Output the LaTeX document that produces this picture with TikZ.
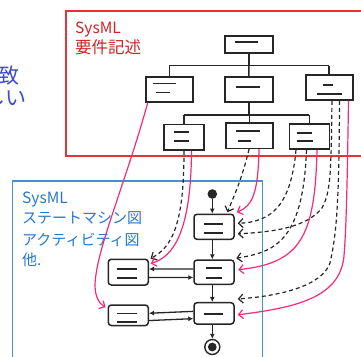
\documentclass[tikz,border=0pt]{standalone}
\usepackage{fontspec}
\newfontfamily\jp{Noto Sans CJK JP}
\usetikzlibrary{arrows.meta,calc}

\definecolor{reqred}{RGB}{224,52,56}
\definecolor{smblue}{RGB}{66,146,214}
\definecolor{txtblue}{RGB}{38,120,202}
\definecolor{txtred}{RGB}{210,34,34}
\definecolor{leadblue}{RGB}{62,74,205}
\definecolor{trace}{RGB}{245,42,122}
\definecolor{ink}{RGB}{38,38,38}

\tikzset{
  req/.style={draw=ink, line width=1.6pt, fill=white, rectangle, inner sep=0pt},
  act/.style={draw=ink, line width=1.5pt, fill=white, rectangle, rounded corners=3pt, inner sep=0pt},
  bar/.style={draw=ink, line width=1.7pt},
  tree/.style={draw=ink, line width=1.5pt},
  flow/.style={draw=ink, line width=1.3pt, -{Latex[length=5pt,width=5pt]}},
  satisfy/.style={draw=trace, line width=1.2pt, -{Straight Barb[length=4.5pt,width=9pt,line width=1.2pt]}},
  derive/.style={draw=ink, line width=1.2pt, dash pattern=on 4pt off 3pt, -{Straight Barb[length=4.5pt,width=9pt,line width=1.2pt]}},
  lbl/.style={anchor=base west, inner sep=0pt, font=\jp\fontsize{15.5}{15.5}\selectfont},
}

\begin{document}
\begin{tikzpicture}[x=1pt,y=-1pt]
\useasboundingbox (0,0) rectangle (361,356);
\clip (0,0) rectangle (361,356);

% partial slide text on the left
\node[anchor=base east, inner sep=0pt, text=leadblue, font=\jp\fontsize{21}{21}\selectfont] (lead1) at (19.5,83.5) {一致};
\node[anchor=base east, inner sep=0pt, text=leadblue, font=\jp\fontsize{21}{21}\selectfont] (lead2) at (26.5,105) {正しい};

% frames
\draw[reqred, line width=1.5pt] (66,11) rectangle (375,156);
\draw[smblue, line width=1.5pt] (12.7,181) rectangle (262.3,375);

% frame labels
\node[lbl, text=txtred] (rq1) at (75,33) {SysML};
\node[lbl, text=txtred, font=\jp\fontsize{16.5}{16.5}\selectfont] (rq2) at (75,53.5) {要件記述};
\node[lbl, text=txtblue] (sm1) at (22,203) {SysML};
\node[lbl, text=txtblue, font=\jp\fontsize{15}{15}\selectfont] (sm2) at (22,223.5) {ステートマシン図};
\node[lbl, text=txtblue, font=\jp\fontsize{15}{15}\selectfont] (sm3) at (22,245.5) {アクティビティ図};
\node[lbl, text=txtblue, font=\jp\fontsize{15}{15}\selectfont] (sm4) at (22,265) {他.};

% requirement tree
\node[req, minimum width=47.7pt, minimum height=17.3pt] (R0) at (249,44.5) {};
\node[req, minimum width=47.3pt, minimum height=25.3pt] (R1) at (169.35,89.35) {};
\node[req, minimum width=47.7pt, minimum height=25pt] (R2) at (248.85,89.5) {};
\node[req, minimum width=47pt, minimum height=25pt] (R3) at (329.2,87.5) {};
\node[req, minimum width=40pt, minimum height=25.7pt] (R4) at (184,137.15) {};
\node[req, minimum width=46.7pt, minimum height=25.6pt] (R5) at (249.35,135.5) {};
\node[req, minimum width=40pt, minimum height=25pt] (R6) at (309.3,136.5) {};

\draw[bar] ($(R0.center)+(-14,-2.2)$) -- ++(23,0);
\draw[bar] ($(R1.center)+(-16.7,-6)$) -- ++(23.4,0);
\draw[bar] ($(R1.center)+(-13.3,3)$) -- ++(14,0);
\draw[bar] ($(R2.center)+(-12.9,-2.2)$) -- ++(24,0);
\draw[bar] ($(R3.center)+(-6.5,-2.8)$) -- ++(10.6,0);
\draw[bar] ($(R3.center)+(-12.2,6.5)$) -- ++(24.7,0);
\draw[bar] ($(R4.center)+(-10,-5.5)$) -- ++(15,0);
\draw[bar] ($(R4.center)+(-10,3.5)$) -- ++(15,0);
\draw[bar] ($(R5.center)+(-13.4,-4.5)$) -- ++(24,0);
\draw[bar] ($(R5.center)+(-11.7,5.2)$) -- ++(13,0);
\draw[bar] ($(R6.center)+(-12.6,-3.2)$) -- ++(15,0);
\draw[bar] ($(R6.center)+(-12.6,4.8)$) -- ++(16,0);

\draw[tree] (R0.south) -- ++(0,11.7) coordinate (j1);
\draw[tree] (j1 -| R1.north) -- (j1 -| R3.north);
\draw[tree] (j1 -| R1.north) -- (R1.north);
\draw[tree] (j1) -- (R2.north);
\draw[tree] (j1 -| R3.north) -- (R3.north);
\draw[tree] (R2.south) -- ++(0,12) coordinate (j2);
\draw[tree] (j2 -| R4.north) -- (j2 -| R6.north);
\draw[tree] (j2 -| R4.north) -- (R4.north);
\draw[tree] (j2 -| R5.north) -- (R5.north);
\draw[tree] (j2 -| R6.north) -- (R6.north);

% activity diagram
\node[circle, fill=ink, inner sep=0pt, minimum size=9.6pt] (init) at (212.3,194) {};
\node[act, minimum width=40pt, minimum height=25pt] (A1) at (214,226.8) {};
\node[act, minimum width=40pt, minimum height=24.3pt] (A2) at (214,272.2) {};
\node[act, minimum width=40pt, minimum height=21.3pt] (A3) at (214,313.35) {};
\node[act, minimum width=40pt, minimum height=25.7pt] (B2) at (128.3,272.15) {};
\node[act, minimum width=40pt, minimum height=20.5pt] (B3) at (128.3,315.25) {};
\node[circle, draw=ink, line width=1.4pt, fill=white, inner sep=0pt, minimum size=15pt] (fin) at (212.3,347) {};
\fill[ink] (fin.center) circle (4.4pt);

\draw[bar] ($(A1.center)+(-9.7,-2.5)$) -- ++(19,0);
\draw[bar] ($(A1.center)+(-9.7,5.9)$) -- ++(19,0);
\draw[bar] ($(A2.center)+(-8.3,-3.9)$) -- ++(16,0);
\draw[bar] ($(A2.center)+(-8.3,5.5)$) -- ++(16,0);
\draw[bar] ($(A3.center)+(-9.7,0.65)$) -- ++(19,0);
\draw[bar] ($(B2.center)+(-11,-2.85)$) -- ++(20,0);
\draw[bar] ($(B2.center)+(-11,6.15)$) -- ++(20,0);
\draw[bar] ($(B3.center)+(-11,-1.75)$) -- ++(20,0);
\draw[bar] ($(B3.center)+(-11,6.45)$) -- ++(20,0);

\draw[flow] (init.south) -- (init |- A1.north);
\draw[flow] (init |- A1.south) -- (init |- A2.north);
\draw[flow] (init |- A2.south) -- (init |- A3.north);
\draw[flow] (init |- A3.south) -- (fin.north);
\draw[flow] ($(A2.west)+(0,-3.2)$) -- ($(B2.east)+(0,-3.2)$);
\draw[flow] ($(B2.east)+(0,5.3)$) -- ($(A2.west)+(0,5.3)$);
\draw[flow] ($(A3.west)+(0,-2)$) -- ($(B3.east)+(0,-2)$);
\draw[flow] ($(B3.east)+(0,5.3)$) -- ($(A3.west)+(0,5.3)$);

% derivation traces (dashed)
\draw[derive] ($(R4.south)+(0,0)$) .. controls (184,225) and (172,247) .. ($(B2.north east)+(1.5,0)$);
\draw[derive] ($(R5.south)+(-0.3,0)$) .. controls (241,183) and (232,200) .. ($(A1.north)+(13.5,-1.3)$);
\draw[derive] ($(R6.south)+(-13.3,0)$) .. controls (291,205) and (272,222) .. ($(A1.east)+(3,-3.5)$);
\draw[derive] ($(R6.south)+(-2.8,0)$) .. controls (303,245) and (272,252) .. ($(A2.north east)+(1.5,-1)$);
\draw[derive] ($(R3.south)+(2.8,0)$) .. controls (331,170) and (331,192) .. (322,208) .. controls (306,228) and (272,232) .. ($(A1.east)+(3,7)$);
\draw[derive] ($(R3.south)+(10.3,0)$) .. controls (339,200) and (337,232) .. (330,263) .. controls (322,286) and (280,296) .. ($(A3.north east)+(3,-3)$);

% satisfaction traces (pink)
\draw[satisfy] ($(R1.south west)+(2.8,0)$) .. controls (125,185) and (96,250) .. (95,285) .. controls (95,298) and (100,304) .. ($(B3.north west)+(-2,3)$);
\draw[satisfy] ($(R4.south)+(7.5,0)$) .. controls (191,235) and (172,257) .. ($(B2.north east)+(1.7,5)$);
\draw[satisfy] ($(R5.south)+(9.7,0)$) .. controls (258,195) and (252,206) .. ($(A1.north east)+(2,-1.3)$);
\draw[satisfy] ($(R6.south)+(7.7,0)$) .. controls (315,238) and (300,263) .. ($(A2.east)+(3.5,-2.5)$);
\draw[satisfy] ($(R3.south)+(19.3,0)$) .. controls (347,200) and (346,230) .. (344,256) .. controls (340,300) and (290,308) .. ($(A3.east)+(3,1.5)$);
\end{tikzpicture}
\end{document}
